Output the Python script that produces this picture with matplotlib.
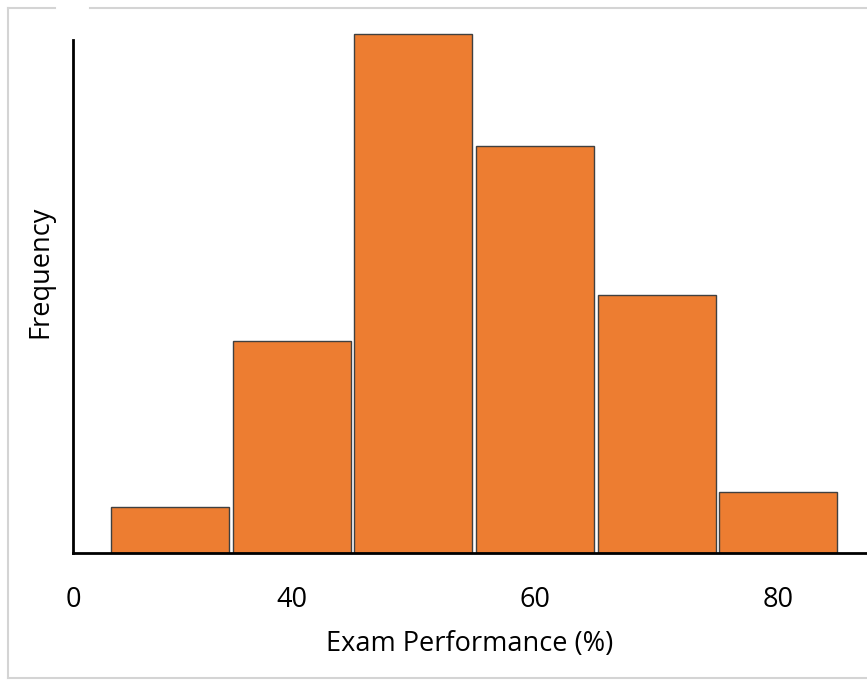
import matplotlib.pyplot as plt
from matplotlib.lines import Line2D

# bins centred on exam scores, frequency is unitless in the original
centres = [30, 40, 50, 60, 70, 80]
freq = [1.95, 9.0, 22.0, 17.25, 10.95, 2.6]
tick_pos = [22.0, 40, 60, 80]
tick_labels = ["0", "40", "60", "80"]

W, H = 867, 680
fig = plt.figure(figsize=(W / 100, H / 100), dpi=100)
plt.rcParams["font.family"] = ["Open Sans", "DejaVu Sans"]

ax = fig.add_axes([73 / W, (H - 553) / H, (W - 73) / W, 531 / H])
ax.bar(centres, freq, width=9.7, color="#ED7D31", edgecolor="#404040",
       linewidth=1.0, zorder=2)

ax.set_xlim(22.0, 87.3)
ax.set_ylim(0, 22.5)
ax.set_xticks(tick_pos, tick_labels, fontsize=19.5)
ax.set_yticks([])
ax.tick_params(axis="x", length=0, pad=24)
ax.set_xlabel("Exam Performance (%)", fontsize=19.5, labelpad=11)
ax.set_ylabel("Frequency", fontsize=19.5)
ax.yaxis.set_label_coords(-0.024, 0.529)

for side in ["top", "right"]:
    ax.spines[side].set_visible(False)
for side in ["left", "bottom"]:
    ax.spines[side].set_linewidth(2.0)
    ax.spines[side].set_color("black")
    ax.spines[side].set_zorder(3)
ax.spines["left"].set_bounds(0, 513 / 23.6)

# faint frame of the original screenshot
grey = "#d4d4d4"
def px_line(x0, y0, x1, y1):
    fig.add_artist(Line2D([x0 / W, x1 / W], [1 - y0 / H, 1 - y1 / H],
                          color=grey, linewidth=1.5))

px_line(8, 8, 8, 678)
px_line(8, 678, W, 678)
px_line(8, 8, 55, 8)
px_line(90, 8, W, 8)

fig.savefig("out.png", dpi=100)
